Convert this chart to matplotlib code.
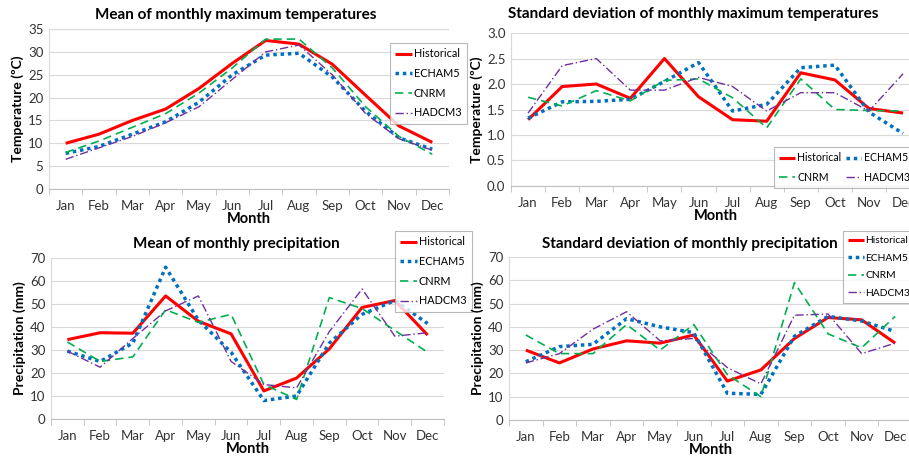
import matplotlib
matplotlib.use("Agg")
import matplotlib.pyplot as plt
import numpy as np

months = ["Jan", "Feb", "Mar", "Apr", "May", "Jun", "Jul", "Aug", "Sep", "Oct", "Nov", "Dec"]
series_names = ["Historical", "ECHAM5", "CNRM", "HADCM3"]

# Mean of monthly maximum temperatures
tmax_hist = [10.0, 12.0, 15.0, 17.5, 22.0, 27.5, 32.5, 31.7, 27.3, 20.5, 13.8, 10.2]
tmax_echam = [7.8, 9.3, 12.0, 14.7, 19.0, 25.0, 29.3, 29.7, 24.5, 17.0, 11.2, 8.7]
tmax_cnrm = [8.0, 10.5, 13.5, 16.5, 21.0, 26.5, 32.8, 32.8, 26.5, 18.0, 11.5, 7.6]
tmax_hadcm = [6.5, 9.0, 11.5, 14.5, 18.0, 24.0, 30.0, 31.5, 25.0, 16.5, 11.0, 8.5]

# Standard deviation of monthly maximum temperatures
tsd_hist = [1.30, 1.95, 2.00, 1.72, 2.50, 1.75, 1.30, 1.27, 2.22, 2.08, 1.52, 1.43]
tsd_echam = [1.33, 1.65, 1.66, 1.70, 2.05, 2.42, 1.47, 1.60, 2.32, 2.37, 1.45, 1.03]
tsd_cnrm = [1.74, 1.57, 1.87, 1.67, 2.07, 2.10, 1.73, 1.14, 2.10, 1.50, 1.48, 1.47]
tsd_hadcm = [1.43, 2.36, 2.50, 1.88, 1.88, 2.13, 1.95, 1.47, 1.83, 1.83, 1.47, 2.20]

# Mean of monthly precipitation
pm_hist = [34.5, 37.5, 37.3, 53.5, 42.5, 37.0, 12.2, 17.8, 30.5, 48.5, 51.5, 36.5]
pm_echam = [29.5, 25.0, 33.0, 66.0, 43.0, 29.0, 8.0, 10.0, 33.0, 45.5, 51.5, 41.5]
pm_cnrm = [33.5, 25.0, 27.0, 47.5, 42.0, 45.5, 15.0, 8.5, 52.8, 48.0, 38.5, 29.0]
pm_hadcm = [29.5, 22.5, 35.0, 47.0, 53.5, 25.0, 15.0, 13.5, 38.0, 56.5, 36.0, 37.5]

# Standard deviation of monthly precipitation
psd_hist = [30.0, 24.5, 30.5, 34.0, 33.0, 36.5, 16.7, 21.5, 35.0, 44.0, 43.0, 33.0]
psd_echam = [25.0, 31.5, 32.5, 43.5, 40.0, 37.5, 11.5, 11.0, 36.0, 44.5, 42.5, 38.0]
psd_cnrm = [36.5, 28.5, 28.5, 41.0, 30.0, 41.0, 19.5, 10.0, 59.0, 37.0, 31.0, 44.5]
psd_hadcm = [24.5, 28.5, 39.0, 46.5, 34.0, 35.0, 22.5, 15.5, 45.0, 45.5, 28.5, 33.0]

plt.rcParams['font.family'] = ['Lato', 'DejaVu Sans']

styles = [
    dict(color="#FF0000", lw=2.2, ls="-"),
    dict(color="#0070C0", lw=2.5, ls=(0, (1, 1.1)), dash_capstyle="butt"),
    dict(color="#00B050", lw=1.2, ls=(0, (5, 3))),
    dict(color="#7030A0", lw=1.0, ls=(0, (6, 2, 1, 2))),
]

fig = plt.figure(figsize=(9.09, 4.58), dpi=100)

W, H = 909.0, 458.0
panels = [
    dict(pos=[0.0539, 0.5873, 0.440, 0.3493], data=[tmax_hist, tmax_echam, tmax_cnrm, tmax_hadcm],
         title="Mean of monthly maximum temperatures", tpos=(236, 15), ylabel="Temperature (ºC)",
         ylim=(0, 35), step=5, fmt="{:.0f}",
         leg=dict(bbox=(390 / W, 1 - 43 / H), ncol=1, fs=7.8)),
    dict(pos=[0.5622, 0.5939, 0.450, 0.334], data=[tsd_hist, tsd_echam, tsd_cnrm, tsd_hadcm],
         title="Standard deviation of monthly maximum temperatures", tpos=(693, 14), ylabel="Temperature (ºC)",
         ylim=(0, 3.0), step=0.5, fmt="{:.1f}",
         leg=dict(bbox=(774 / W, 1 - 147 / H), ncol=2, fs=7.6)),
    dict(pos=[0.0561, 0.0852, 0.4323, 0.3515], data=[pm_hist, pm_echam, pm_cnrm, pm_hadcm],
         title="Mean of monthly precipitation", tpos=(236, 244), ylabel="Precipitation (mm)",
         ylim=(0, 70), step=10, fmt="{:.0f}",
         leg=dict(bbox=(395 / W, 1 - 231 / H), ncol=1, fs=7.8)),
    dict(pos=[0.5600, 0.0830, 0.4433, 0.3559], data=[psd_hist, psd_echam, psd_cnrm, psd_hadcm],
         title="Standard deviation of monthly precipitation", tpos=(690, 244), ylabel="Precipitation (mm)",
         ylim=(0, 70), step=10, fmt="{:.0f}",
         leg=dict(bbox=(843 / W, 1 - 231 / H), ncol=1, fs=7.4)),
]

x = np.arange(len(months))
for p in panels:
    ax = fig.add_axes(p["pos"])
    handles = []
    for name, vals, st in zip(series_names, p["data"], styles):
        h, = ax.plot(x, vals, label=name, solid_capstyle="butt", **st)
        handles.append(h)
    ax.set_xlim(-0.5, len(months) - 0.5)
    ax.set_ylim(*p["ylim"])
    yt = np.arange(p["ylim"][0], p["ylim"][1] + p["step"] / 2, p["step"])
    ax.set_yticks(yt)
    ax.set_yticklabels([p["fmt"].format(v) for v in yt], fontsize=9.5, color="#333333")
    ax.set_xticks(x)
    ax.set_xticklabels(months, fontsize=9.5, color="#333333")
    ax.set_xticks(np.arange(-0.5, len(months)), minor=True)
    ax.tick_params(axis="x", which="major", length=0, pad=8)
    ax.tick_params(axis="x", which="minor", length=4, color="#BFBFBF")
    ax.tick_params(axis="y", length=0, pad=4)
    ax.grid(axis="y", color="#D9D9D9", lw=0.8)
    ax.set_axisbelow(True)
    for s in ["top", "right"]:
        ax.spines[s].set_visible(False)
    ax.spines["left"].set_color("#D9D9D9")
    ax.spines["bottom"].set_color("#BFBFBF")
    fig.text(p["tpos"][0] / W, 1 - p["tpos"][1] / H, p["title"], fontsize=11, fontweight="bold",
             ha="center", va="center")
    ax.set_ylabel(p["ylabel"], fontsize=10, fontweight="bold", labelpad=3)
    ax.set_xlabel("Month", fontsize=10.5, fontweight="bold", labelpad=0)
    lg = p["leg"]
    if lg["ncol"] == 2:
        order = [0, 2, 1, 3]
    else:
        order = [0, 1, 2, 3]
    leg = ax.legend([handles[i] for i in order], [series_names[i] for i in order],
                    loc="upper left", bbox_to_anchor=lg["bbox"], bbox_transform=fig.transFigure,
                    ncol=lg["ncol"], fontsize=lg["fs"], frameon=True, fancybox=False,
                    handlelength=1.5, handletextpad=0.2, borderpad=0.5, labelspacing=0.8,
                    columnspacing=0.4, borderaxespad=0)
    leg.get_frame().set_edgecolor("#A6A6A6")
    leg.get_frame().set_linewidth(0.8)

fig.savefig("out.png", dpi=100)
